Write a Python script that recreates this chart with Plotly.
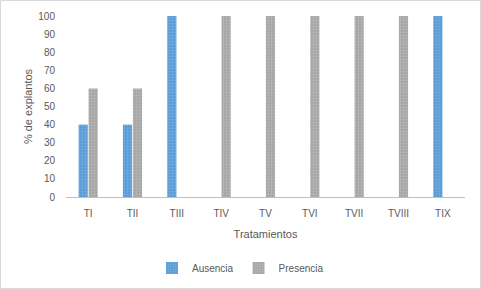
import plotly.graph_objects as go

categories = ["TI", "TII", "TIII", "TIV", "TV", "TVI", "TVII", "TVIII", "TIX"]
ausencia = [40, 40, 100, 0, 0, 0, 0, 0, 100]
presencia = [60, 60, 0, 100, 100, 100, 100, 100, 0]
y_ticks = [0, 10, 20, 30, 40, 50, 60, 70, 80, 90, 100]

W, H = 481, 289
ml, mr, mt, mb = 66, 16, 16, 92

fig = go.Figure()
fig.add_trace(go.Bar(
    x=categories, y=ausencia, name="Ausencia",
    marker=dict(color="#5B9BD5", line=dict(width=0),
                pattern=dict(shape=".", fgcolor="#8FC3F0", size=3, solidity=0.3)),
))
fig.add_trace(go.Bar(
    x=categories, y=presencia, name="Presencia",
    marker=dict(color="#A5A5A5", line=dict(width=0),
                pattern=dict(shape=".", fgcolor="#D0D0D0", size=3, solidity=0.3)),
))

pw = W - ml - mr
ph = H - mt - mb
fig.add_shape(type="rect", xref="paper", yref="paper",
              x0=-(ml - 0.5) / pw, x1=1 + (mr - 0.5) / pw,
              y0=-(mb - 0.5) / ph, y1=1 + (mt - 0.5) / ph,
              line=dict(color="#D9D9D9", width=1), layer="below")

font = "Liberation Sans"
fig.update_layout(
    width=W, height=H,
    margin=dict(l=ml, r=mr, t=mt, b=mb, autoexpand=False),
    paper_bgcolor="white", plot_bgcolor="white",
    barmode="group", bargap=0.55, bargroupgap=0.08,
    font=dict(family=font, size=10, color="#595959"),
    xaxis=dict(
        title=dict(text="Tratamientos", font=dict(size=11, color="#595959"), standoff=12),
        showline=True, linecolor="#BFBFBF", linewidth=1, automargin=False,
        ticks="", tickfont=dict(size=10, color="#595959"), ticklabelstandoff=7,
        showgrid=False,
    ),
    yaxis=dict(
        title=dict(text="% de explantos", font=dict(size=11, color="#595959"), standoff=3),
        range=[0, 100], tickvals=y_ticks, showgrid=False, zeroline=False, automargin=False,
        showline=False, ticks="", tickfont=dict(size=10, color="#595959"), ticklabelstandoff=10,
    ),
    legend=dict(orientation="h", x=0.5, xanchor="center", xref="container",
                y=1 - 268 / H, yanchor="middle", yref="container",
                font=dict(size=10, color="#595959"), itemwidth=30),
)

fig.write_html("out.html", config={"displayModeBar": False},
               post_script="document.body.style.margin='0';")
